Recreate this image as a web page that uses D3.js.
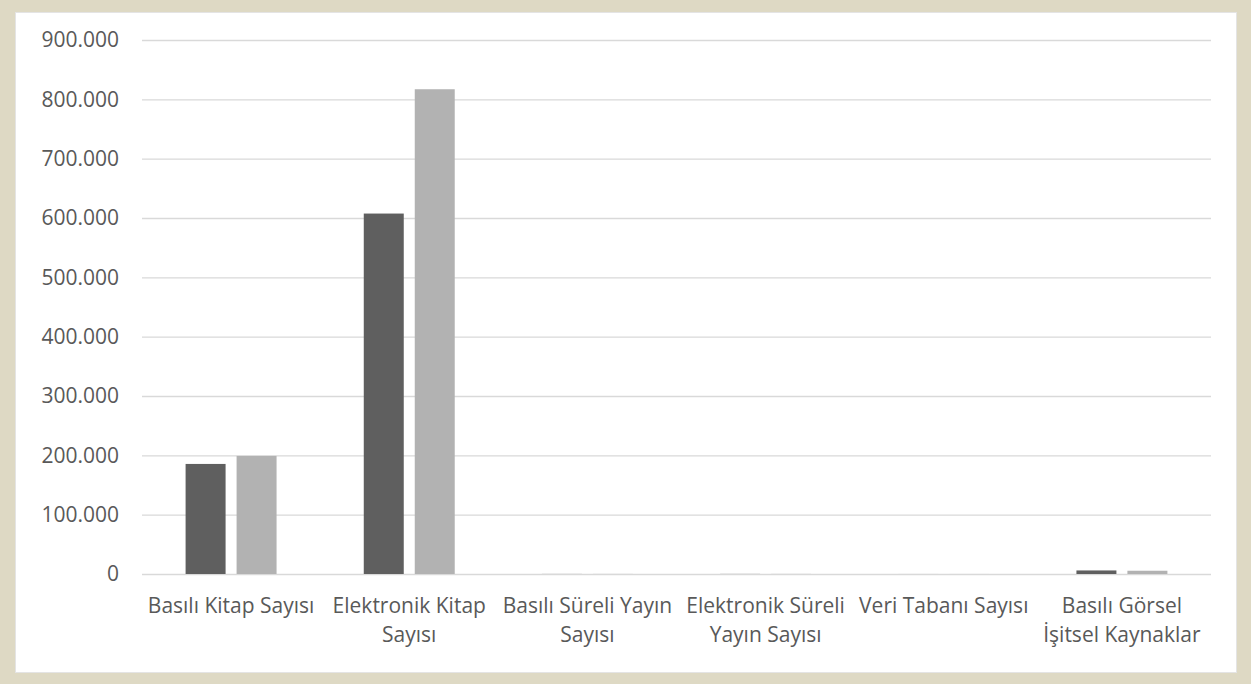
<!DOCTYPE html>
<html>
<head>
<meta charset="utf-8">
<script src="https://cdn.jsdelivr.net/npm/d3@7"></script>
<style>
  html, body { margin: 0; padding: 0; background: #ded9c4; }
  svg { display: block; }
  text { font-family: "Open Sans", "Noto Sans", sans-serif; fill: #595959; }
</style>
</head>
<body>
<svg id="chart" width="1251" height="684"></svg>
<script>
const categories = [
  "Basılı Kitap Sayısı",
  "Elektronik Kitap\nSayısı",
  "Basılı Süreli Yayın\nSayısı",
  "Elektronik Süreli\nYayın Sayısı",
  "Veri Tabanı Sayısı",
  "Basılı Görsel\nİşitsel Kaynaklar"
];
const seriesNames = ["Seri 1", "Seri 2"];
const series1 = [185500, 607500, 120, 150, 40, 6000];
const series2 = [199000, 817000, 130, 160, 45, 5500];
const yTicks = [0, 100000, 200000, 300000, 400000, 500000, 600000, 700000, 800000, 900000];
const seriesColors = ["#5f5f5f", "#b2b2b2"];

const svg = d3.select("#chart");
const W = 1251, H = 684;

// frame
svg.append("rect").attr("x", 0).attr("y", 0).attr("width", W).attr("height", H).attr("fill", "#ded9c4");
svg.append("rect").attr("x", 15.5).attr("y", 12.5).attr("width", 1221).attr("height", 660)
  .attr("fill", "#ffffff").attr("stroke", "#e4e4e4").attr("stroke-width", 1);

const plot = { left: 142, right: 1211, top: 40, bottom: 574 };

const y = d3.scaleLinear().domain([0, 900000]).range([plot.bottom, plot.top]);
const x0 = d3.scaleBand().domain(categories).range([plot.left, plot.right]).padding(0);
const x1 = d3.scaleBand().domain(seriesNames).range([0, x0.bandwidth()])
  .paddingInner(0.2157).paddingOuter(0.855);

const locale = d3.formatLocale({ decimal: ",", thousands: ".", grouping: [3], currency: ["", ""] });
const fmt = locale.format(",d");

// gridlines
const yAxis = d3.axisLeft(y).tickValues(yTicks).tickSize(-(plot.right - plot.left)).tickFormat(fmt).tickPadding(23);
const gy = svg.append("g").attr("transform", `translate(${plot.left},0)`).call(yAxis);
gy.select(".domain").remove();
gy.selectAll(".tick line").attr("stroke", "#d9d9d9").attr("stroke-width", 1.3);
gy.selectAll(".tick text").attr("font-size", 21).attr("fill", "#595959")
  .style("font-family", '"Open Sans", "Noto Sans", sans-serif');

// bars
const data = categories.map((c, i) => ({ cat: c, vals: [series1[i], series2[i]] }));
const groups = svg.append("g").selectAll("g").data(data).join("g")
  .attr("transform", d => `translate(${x0(d.cat)},0)`);
groups.selectAll("rect").data(d => d.vals.map((v, j) => ({ name: seriesNames[j], v, j })))
  .join("rect")
  .attr("x", d => x1(d.name))
  .attr("width", x1.bandwidth())
  .attr("y", d => y(d.v))
  .attr("height", d => y(0) - y(d.v))
  .attr("fill", d => seriesColors[d.j]);

// x axis labels
const xAxis = d3.axisBottom(x0).tickSize(0).tickPadding(0);
const gx = svg.append("g").attr("transform", `translate(0,${plot.bottom})`).call(xAxis);
gx.select(".domain").remove();
gx.selectAll(".tick text").each(function(d) {
  const t = d3.select(this);
  t.text(null).attr("y", 0).attr("dy", null).attr("font-size", 21).attr("fill", "#595959")
    .style("font-family", '"Open Sans", "Noto Sans", sans-serif');
  d.split("\n").forEach((line, k) => {
    t.append("tspan").attr("x", 0).attr("y", 39 + k * 29).text(line);
  });
});
</script>
</body>
</html>
